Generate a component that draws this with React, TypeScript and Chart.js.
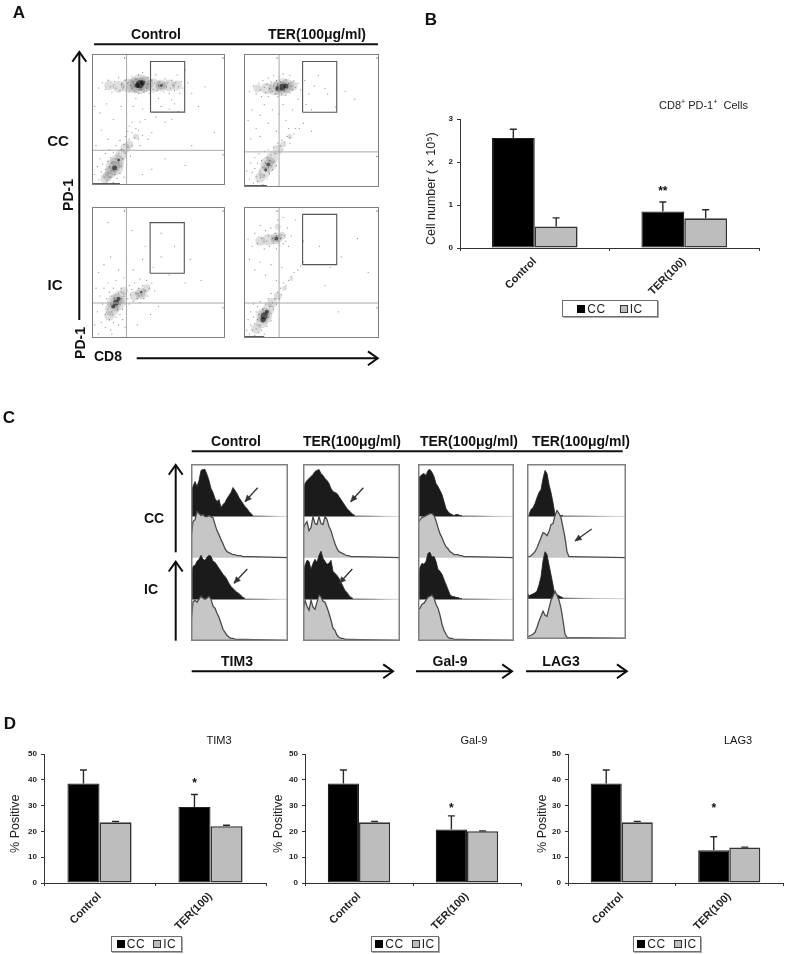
import React, { useEffect, useRef } from "react";
import { Chart, registerables } from "chart.js";
Chart.register(...registerables);

const FONT = '"Liberation Sans", Arial, sans-serif';

/* ---------- bar data ---------- */
const groups = ["Control", "TER(100)"];
const cellCC = [2.56, 0.85];
const cellIC = [0.5, 0.69];
const cellCCTop = [2.76, 1.07];
const cellICTop = [0.7, 0.89];
const cellStars = [null, "**"];
const cellStarAt = [0, 1.35];

const timCC = [38.6, 29.5];
const timIC = [23.5, 22];
const timCCTop = [43.8, 34.3];
const timICTop = [23.9, 22.4];
const galCC = [38.6, 20.7];
const galIC = [23.5, 20.1];
const galCCTop = [43.8, 26];
const galICTop = [23.9, 20.2];
const lagCC = [38.6, 12.7];
const lagIC = [23.5, 13.8];
const lagCCTop = [43.8, 17.9];
const lagICTop = [23.9, 13.9];

/* ---------- flow cytometry dots, percent of axis (x,y pairs) ---------- */
const p1Specks = [5,74,8,78,10,73,12,80,14,75,15,71,17,79,18,74,20,82,21,72,22,77,24,75,25,80,26,73,27,78,28,71,29,76,30,83,30,74,31,79,32,72,33,77,33,81,34,75,35,70,35,84,36,78,37,73,37,80,38,76,38,86,39,71,40,79,41,74,42,82,42,77,43,70,44,75,45,80,46,73,47,78,48,84,49,72,50,76,51,79,52,74,53,77,54,71,55,81,56,75,57,78,58,70,59,74,60,80,61,76,62,72,63,78,64,84,65,75,66,70,67,79,68,74,72,78,75,70,70,88,
2,60,6,55,11,62,16,50,22,60,26,55,30,48,31,60,35,42,38,58,40,50,44,62,48,52,52,60,55,48,58,58,62,62,60,50,65,56,45,40,42,35,38,38,36,30,28,45,12,35,7,42,3,30,60,65,50,66,33,66,80,60,85,75,92,40,75,30,70,15,55,20,45,12,38,8,
2,8,4,14,5,4,6,20,7,10,8,16,9,6,10,24,10,12,11,3,12,18,12,9,13,14,13,27,14,6,14,21,15,11,15,17,16,2,16,25,17,8,17,14,18,20,18,30,19,12,19,5,20,17,20,24,21,9,21,34,22,14,22,27,23,20,24,31,24,6,25,24,25,37,26,16,27,29,27,41,28,35,29,22,30,30,30,40,32,36,33,43,35,35,36,48];
const p1Soft = [36,77,10,36,77,7,32,76,8,40,77,8,27,76,7,20,75,6,13,76,5,46,76,7,52,76,6,52,76,4,58,76,6,64,76,5,17,14,9,17,14,6,19,18,7,22,23,6,25,28,5,14,10,6,12,7,5,28,31,4,33,37,3,10,5,5];
const p1Dense = [36,77,4,34,76,2.5,38,78,2.5,52,76,1.5,17,13,2.5,20,19,1.5];

const p2Specks = [4,72,7,76,9,70,11,78,12,73,13,68,14,80,15,75,16,71,17,77,18,82,18,68,19,74,20,79,21,72,22,76,22,84,23,70,24,74,24,80,25,77,25,68,26,72,26,83,27,75,27,79,28,70,28,74,29,78,29,85,30,72,30,76,31,69,31,81,32,74,33,78,34,71,34,84,35,76,36,73,37,80,38,75,40,78,42,73,45,80,48,70,52,76,60,74,
3,50,6,58,9,44,12,54,15,62,18,48,21,58,24,42,26,55,29,62,31,50,33,44,36,58,40,66,46,62,50,58,55,84,62,70,68,60,75,72,82,66,50,42,44,48,41,44,37,40,34,37,5,36,12,38,
2,12,4,6,5,18,6,11,7,3,8,22,8,14,9,8,10,18,10,4,11,25,12,12,12,7,13,20,14,15,14,2,15,9,15,27,16,18,16,12,17,22,17,6,18,15,18,28,19,10,19,20,20,24,20,16,21,13,22,30,22,19,23,25,24,16,25,33,26,27,27,31,28,35,29,28,30,34,32,38,34,33,38,44];
const p2Soft = [28,75,9,28,75,6,23,74,7,32,76,7,17,74,6,36,76,5,10,74,4,18,17,8,18,17,5,15,11,6,21,22,6,25,28,5,29,32,3,12,7,5,34,38,2.5];
const p2Dense = [28,75,3.5,25,74,2.5,31,76,2.5,18,17,2,16,13,1.5];

const p3Specks = [4,20,6,32,7,12,8,26,9,38,10,18,10,8,11,30,12,22,12,42,13,14,13,35,14,26,14,6,15,20,15,32,16,38,16,12,17,24,17,30,18,16,18,44,19,28,19,22,20,34,20,10,21,26,21,18,22,38,22,30,23,22,23,14,24,32,24,46,25,26,25,8,26,36,26,18,27,30,28,26,28,40,29,33,30,37,31,28,32,42,33,34,34,30,35,38,36,27,36,45,37,33,38,40,39,30,40,36,41,44,42,32,43,38,45,42,47,36,
2,10,3,38,5,50,9,56,14,62,20,52,26,60,31,52,38,60,46,54,52,62,58,48,62,70,70,42,74,60,82,44,12,88,30,82,40,70,52,80,5,3,15,3,26,4,34,10,44,18,50,24];
const p3Soft = [18,27,9,18,27,6,15,22,7,21,31,7,13,17,5,24,36,4,37,34,6,37,34,4,32,32,5,41,38,4];
const p3Dense = [18,27,3,16,24,2,20,30,2,37,35,1.2];

const p4Specks = [3,75,6,70,8,80,10,72,12,86,13,76,15,68,16,82,17,74,18,78,19,70,20,84,21,76,22,72,23,80,23,75,24,68,24,78,25,74,25,90,26,71,26,82,27,76,28,79,29,72,29,92,30,78,31,74,32,84,33,70,35,78,
4,60,8,52,12,58,16,48,20,56,24,44,28,54,38,90,44,74,56,70,64,54,72,62,84,76,92,50,60,40,70,20,
2,6,3,14,4,3,5,20,5,10,6,6,7,16,7,26,8,2,8,11,9,20,9,7,10,14,10,24,11,4,11,18,12,10,12,28,13,16,13,6,14,22,14,12,15,18,15,3,16,14,16,26,17,9,17,20,18,16,18,30,19,24,20,13,20,34,21,27,22,22,23,30,24,26,25,35,26,30,27,38,28,33,29,42,31,40,33,44,35,47,37,50,40,52,42,55,44,58];
const p4Soft = [24,76,6,24,76,4,18,75,6,28,78,4,12,74,5,25,85,3,15,17,8,15,17,6,13,12,6,18,22,6,21,27,5,25,32,4,9,7,5,30,38,2.5,35,45,2];
const p4Dense = [24,76,2,15,17,3.5,14,14,2.5,17,20,2];

const crossV = [26, 26, 25.9, 26];
const crossH = [26.5, 26.4, 26.7, 26.7];
const gateX = [[44, 69.7], [43.4, 68.7], [43.7, 69.4], [43.4, 68.7]];
const gateY = [[55.6, 94.3], [56.2, 94.4], [49.4, 88.1], [56, 94.4]];
const pileUp = [21, 17, 0, 15];
const quadrantMarks = [24.5, 97, 98.5, 97, 98.5, 23];

/* ---------- histograms: counts per channel step, one list per row ---------- */
const h1a = [28,30,35,30,36,46,47,47,42,36,28,24,18,15,17,9,12,14,18,21,24,29,26,23,19,16,13,10,8,5,3,1];
const h1b = [20,36,38,46,44,42,43,41,41,42,41,40,33,27,23,18,14,9,6,5,4,3,3,2,2,2,1,1,1,1,1];
const h1c = [24,33,34,38,40,44,40,39,42,44,43,38,37,34,31,28,25,23,20,16,13,11,9,7,6,4,2,1];
const h1d = [18,38,40,38,41,44,42,41,42,44,41,34,32,27,23,17,11,8,5,3,2,2,1,1,1,1,1];
const h2a = [25,33,36,38,40,42,45,46,47,43,41,38,36,33,28,25,24,23,20,17,14,11,8,6,4,2,1];
const h2b = [28,33,36,27,30,41,34,33,41,34,33,41,38,31,27,20,14,9,6,5,4,3,2,2,1,1,1,1,1];
const h2c = [28,34,39,38,30,36,40,37,44,48,41,38,35,36,39,28,26,24,21,17,13,9,7,4,2,1];
const h2d = [28,40,34,30,40,33,31,38,45,43,39,38,33,27,20,12,10,5,3,2,2,1,1,1];
const h3a = [38,40,42,43,41,46,47,44,40,33,30,26,22,15,8,5,3,2,1,2,2,1,1];
const h3b = [35,38,40,41,42,43,44,44,42,37,30,24,20,15,11,9,6,5,3,3,3,2,2,1,1,1,1];
const h3c = [22,32,36,35,38,46,47,42,43,38,30,28,25,20,15,10,5,3,3,2,2,1,1];
const h3d = [30,32,36,37,40,43,44,45,42,36,32,25,16,10,6,3,2,2,1,1,1];
const h4a = [0,2,7,9,13,19,24,27,38,46,43,32,24,14,2,1,1,1,1];
const h4b = [1,1,2,4,6,10,15,20,25,24,22,26,33,34,42,47,44,40,30,20,6,1,1];
const h4c = [7,3,4,5,6,8,14,22,38,47,44,34,24,14,2,4,3,2,1];
const h4d = [1,2,3,4,6,11,17,22,27,23,22,30,38,42,47,43,38,30,18,4,1];
const rowBases = [124, 83, 41.4, 0.7];

const legendLabels = ["CC", "IC"];
const legendColors = ["#000", "#bdbdbd"];

/* ---------- helpers ---------- */
const pts = (a: number[]) => {
  const o: any[] = [];
  for (let i = 0; i < a.length; i += 2) o.push({ x: a[i], y: a[i + 1] });
  return o;
};
const bubbles = (a: number[]) => {
  const o: any[] = [];
  for (let i = 0; i < a.length; i += 3) o.push({ x: a[i], y: a[i + 1], r: a[i + 2] });
  return o;
};

const framePlugin = {
  id: "frame",
  afterDraw(chart: any, _a: any, o: any) {
    if (!o.color) return;
    const { left, top, width, height } = chart.chartArea;
    const c = chart.ctx;
    c.save();
    c.strokeStyle = o.color;
    c.lineWidth = o.width || 1;
    const i = c.lineWidth / 2;
    c.strokeRect(left + i, top + i, width - 2 * i, height - 2 * i);
    c.restore();
  },
};

const errorPlugin = {
  id: "errors",
  afterDatasetsDraw(chart: any) {
    const c = chart.ctx;
    const y = chart.scales.y;
    c.save();
    chart.data.datasets.forEach((ds: any, di: number) => {
      if (!ds.errorTops) return;
      chart.getDatasetMeta(di).data.forEach((bar: any, i: number) => {
        const yt = y.getPixelForValue(ds.errorTops[i]);
        c.strokeStyle = "#2a2a2a";
        c.lineWidth = 1.4;
        c.beginPath();
        c.moveTo(bar.x, bar.y);
        c.lineTo(bar.x, yt);
        c.moveTo(bar.x - 3.5, yt);
        c.lineTo(bar.x + 3.5, yt);
        c.stroke();
        if (ds.stars && ds.stars[i]) {
          c.fillStyle = "#111";
          c.font = `bold 12px ${FONT}`;
          c.textAlign = "center";
          c.textBaseline = "middle";
          c.fillText(ds.stars[i], bar.x, y.getPixelForValue(ds.starAt[i]) + 2);
        }
      });
    });
    c.restore();
  },
};

function barConfig(cc: number[], ic: number[], ccTop: number[], icTop: number[], stars: any[], starAt: number[], max: number, step: number, yTitle: string, yWidth: number, xHeight: number, catPct: number) {
  return {
    type: "bar",
    plugins: [errorPlugin],
    data: {
      labels: groups,
      datasets: [
        { label: legendLabels[0], data: cc, errorTops: ccTop, stars, starAt, backgroundColor: "#000", borderColor: "#222", borderWidth: 1.2, borderSkipped: false },
        { label: legendLabels[1], data: ic, errorTops: icTop, backgroundColor: "#bdbdbd", borderColor: "#333", borderWidth: 1.6, borderSkipped: false },
      ],
    },
    options: {
      animation: false,
      responsive: false,
      layout: { padding: { top: 10, right: 3, left: 0, bottom: 0 } },
      plugins: { legend: { display: false }, tooltip: { enabled: false } },
      datasets: { bar: { categoryPercentage: catPct, barPercentage: 1 } },
      scales: {
        x: {
          afterFit: (s: any) => { s.height = xHeight; },
          border: { color: "#333", width: 1 },
          grid: { drawOnChartArea: false, tickLength: 3, color: "#333" },
          ticks: { minRotation: 45, maxRotation: 45, padding: 4, color: "#222", font: { family: FONT, size: 11, weight: "bold" } },
        },
        y: {
          min: 0,
          max,
          afterFit: (s: any) => { s.width = yWidth; },
          border: { color: "#333", width: 1 },
          grid: { drawOnChartArea: false, tickLength: 3, color: "#333" },
          ticks: { stepSize: step, padding: 4, color: "#222", font: { family: FONT, size: 8, weight: "bold" } },
          title: { display: true, text: yTitle, color: "#222", padding: 0, font: { family: FONT, size: 12.5 } },
        },
      },
    },
  };
}

function flowConfig(i: number, specks: number[], soft: number[], dense: number[]) {
  const x0 = gateX[i][0], x1 = gateX[i][1], y0 = gateY[i][0], y1 = gateY[i][1];
  const rule = { type: "scatter", showLine: true, borderColor: "#a8a8a8", borderWidth: 1, pointRadius: 0 };
  return {
    type: "scatter",
    plugins: [framePlugin],
    data: {
      datasets: [
        { type: "bubble", label: "density", data: bubbles(soft), backgroundColor: "rgba(0,0,0,0.13)", borderWidth: 0, order: 6 },
        { type: "bubble", label: "core", data: bubbles(dense), backgroundColor: "rgba(0,0,0,0.55)", borderWidth: 0, order: 5 },
        { label: "events", data: pts(specks), backgroundColor: "rgba(40,40,40,0.55)", pointRadius: 0.6, borderWidth: 0, order: 4 },
        { ...rule, label: "v", data: [{ x: crossV[i], y: 0 }, { x: crossV[i], y: 100 }], order: 3 },
        { ...rule, label: "h", data: [{ x: 0, y: crossH[i] }, { x: 100, y: crossH[i] }], order: 3 },
        { ...rule, label: "gate", borderColor: "#555", borderWidth: 1.1, data: [{ x: x0, y: y0 }, { x: x1, y: y0 }, { x: x1, y: y1 }, { x: x0, y: y1 }, { x: x0, y: y0 }], order: 2 },
        { ...rule, label: "pile", borderColor: "#111", borderWidth: 1.8, data: [{ x: 0, y: 0.6 }, { x: pileUp[i], y: 0.6 }], order: 1 },
        { label: "q", data: pts(quadrantMarks), backgroundColor: "#666", pointRadius: 0.7, borderWidth: 0, order: 1 },
      ],
    },
    options: {
      animation: false,
      responsive: false,
      layout: { padding: 0, autoPadding: false },
      plugins: { legend: { display: false }, tooltip: { enabled: false }, frame: { color: "#7d7d7d", width: 1 } },
      scales: {
        x: { type: "linear", min: 0, max: 100, display: false },
        y: { type: "linear", min: 0, max: 100, display: false },
      },
    },
  };
}

function histConfig(rows: number[][], width: number, height: number, bases: number[], step: number) {
  const ds = rows.map((row, r) => {
    const base = bases[r];
    const isBlack = r % 2 === 0;
    const data: any[] = row.map((v, i) => ({ x: i * step, y: base + v }));
    data.push({ x: width, y: base });
    return {
      type: "line",
      label: `row${r}`,
      data,
      fill: { value: base },
      backgroundColor: isBlack ? "#1b1b1b" : "#c6c6c6",
      borderColor: isBlack ? "#222" : "#4a4a4a",
      borderWidth: isBlack ? 0.8 : 1.3,
      pointRadius: 0,
      tension: 0,
      order: 4 - r,
      segment: isBlack
        ? { borderColor: (c: any) => (c.p0.parsed.y <= base + 0.01 || c.p1.parsed.y <= base + 0.01 ? "#cfcfcf" : undefined) }
        : undefined,
    };
  });
  return {
    type: "line",
    plugins: [framePlugin],
    data: { datasets: ds },
    options: {
      animation: false,
      responsive: false,
      layout: { padding: 0, autoPadding: false },
      plugins: { legend: { display: false }, tooltip: { enabled: false }, frame: { color: "#808080", width: 1.5 } },
      scales: {
        x: { type: "linear", min: 0, max: width, display: false },
        y: { type: "linear", min: 0, max: height, display: false },
      },
    },
  };
}

function Cv({ l, t, w, h, make }: any) {
  const ref = useRef<HTMLCanvasElement>(null);
  useEffect(() => {
    const chart = new Chart(ref.current as any, make());
    return () => chart.destroy();
  }, []);
  return <canvas ref={ref} width={w} height={h} style={{ position: "absolute", left: l, top: t, width: w, height: h, display: "block" }} />;
}

const labels: any[] = [
  ["A", 19, 12, 17, 1], ["B", 431, 19, 17, 1], ["C", 9, 417, 17, 1], ["D", 10, 723, 17, 1],
  ["Control", 156, 34, 14, 1], ["TER(100μg/ml)", 317, 34, 14, 1],
  ["CC", 58, 140, 15, 1], ["IC", 55, 284, 15, 1],
  ["PD-1", 68, 195, 14, 1, -90], ["PD-1", 80, 343, 14, 1, -90], ["CD8", 108, 356, 14, 1],
  ["Control", 236, 441, 14, 1], ["TER(100μg/ml)", 352, 441, 14, 1], ["TER(100μg/ml)", 469, 441, 14, 1], ["TER(100μg/ml)", 581, 441, 14, 1],
  ["CC", 154, 518, 14, 1], ["IC", 151, 589, 14, 1],
  ["TIM3", 237, 661, 14, 1], ["Gal-9", 450, 661, 14, 1], ["LAG3", 561, 661, 14, 1],
  ["TIM3", 219, 740, 11, 0], ["Gal-9", 474, 740, 11, 0], ["LAG3", 738, 740, 11, 0],
];

const bigArrows: number[][] = [
  [79.3, 320, 79.3, 52, 2], [136.7, 358.3, 377.7, 358.3, 2],
  [175.7, 552.3, 175.7, 465, 2], [175.7, 640.7, 175.7, 561.7, 2],
  [191.7, 671.3, 393, 671.3, 2], [416, 671.3, 512, 671.3, 2], [526, 671.3, 626.7, 671.3, 2],
];
const rules: number[][] = [[94, 44.3, 378, 44.3], [191.7, 451.3, 622.7, 451.3]];
const thinArrows: number[][] = [
  [257.7, 487.7, 245, 501.7], [363.3, 487.7, 350.7, 501.7],
  [247.3, 569, 234, 583.3], [352.3, 569, 339.3, 583.3], [591.7, 529, 575, 541],
];

function Overlay() {
  const head = (a: number[], len: number, sp: number) => {
    const ang = Math.atan2(a[3] - a[1], a[2] - a[0]);
    const p = (s: number) => `${a[2] - len * Math.cos(ang + s)},${a[3] - len * Math.sin(ang + s)}`;
    return { open: `${p(sp)} ${a[2]},${a[3]} ${p(-sp)}`, };
  };
  return (
    <svg width={786} height={954} style={{ position: "absolute", left: 0, top: 0, pointerEvents: "none" }}>
      {rules.map((a, i) => <line key={i} x1={a[0]} y1={a[1]} x2={a[2]} y2={a[3]} stroke="#111" strokeWidth={2} />)}
      {bigArrows.map((a, i) => (
        <g key={i} fill="none" stroke="#0a0a0a" strokeWidth={a[4]}>
          <line x1={a[0]} y1={a[1]} x2={a[2]} y2={a[3]} />
          <polyline points={head(a, 12, 0.62).open} />
        </g>
      ))}
      {thinArrows.map((a, i) => (
        <g key={i} stroke="#333" fill="#333" strokeWidth={1.3}>
          <line x1={a[0]} y1={a[1]} x2={a[2]} y2={a[3]} />
          <polygon points={head(a, 7, 0.42).open} strokeWidth={0.5} />
        </g>
      ))}
    </svg>
  );
}

function Legend({ l, t, w, h, gap }: any) {
  return (
    <div style={{ position: "absolute", left: l, top: t, width: w, height: h, boxSizing: "border-box", border: "1px solid #6f6f6f", boxShadow: "1px 1px 0 #aaa", display: "flex", alignItems: "center", justifyContent: "center", gap, fontFamily: FONT, fontSize: 12, letterSpacing: 0.6, color: "#222", background: "#fff" }}>
      {legendLabels.map((s, i) => (
        <span key={s} style={{ display: "flex", alignItems: "center", gap: 2 }}>
          <span style={{ width: 6, height: 6, background: legendColors[i], border: i ? "1px solid #333" : "1px solid #000", display: "inline-block" }} />
          {s}
        </span>
      ))}
    </div>
  );
}

export default function App() {
  const H = 176.4;
  return (
    <div style={{ position: "absolute", left: 0, top: 0, width: 786, height: 954, overflow: "hidden", background: "#fff" }}>
      <Cv l={92} t={54} w={133} h={131} make={() => flowConfig(0, p1Specks, p1Soft, p1Dense)} />
      <Cv l={244} t={54} w={135} h={133} make={() => flowConfig(1, p2Specks, p2Soft, p2Dense)} />
      <Cv l={92} t={207} w={133} h={131} make={() => flowConfig(2, p3Specks, p3Soft, p3Dense)} />
      <Cv l={244} t={207} w={135} h={131} make={() => flowConfig(3, p4Specks, p4Soft, p4Dense)} />

      <Cv l={424} t={109} w={338} h={190} make={() => barConfig(cellCC, cellIC, cellCCTop, cellICTop, cellStars, cellStarAt, 3, 1, "Cell number ( × 10⁵)   ", 36, 51, 0.573)} />

      <Cv l={191} t={464} w={97} h={177} make={() => histConfig([h1a, h1b, h1c, h1d], 97, H, rowBases, 2)} />
      <Cv l={303} t={464} w={97} h={177} make={() => histConfig([h2a, h2b, h2c, h2d], 97, H, rowBases, 2)} />
      <Cv l={418} t={464} w={96} h={177} make={() => histConfig([h3a, h3b, h3c, h3d], 96, H, rowBases, 2)} />
      <Cv l={527} t={464} w={99} h={175} make={() => histConfig([h4a, h4b, h4c, h4d], 99, H - 2, [122, 81, 40, 0.7], 2)} />

      <Cv l={8} t={744} w={261} h={187} make={() => barConfig(timCC, timIC, timCCTop, timICTop, [null, "*"], [0, 39.4], 50, 10, "% Positive   ", 36, 48, 0.578)} />
      <Cv l={271} t={744} w={253} h={187} make={() => barConfig(galCC, galIC, galCCTop, galICTop, [null, "*"], [0, 29.5], 50, 10, "% Positive   ", 34, 48, 0.578)} />
      <Cv l={535} t={744} w={251} h={187} make={() => barConfig(lagCC, lagIC, lagCCTop, lagICTop, [null, "*"], [0, 29.5], 50, 10, "% Positive   ", 33, 48, 0.578)} />

      <Overlay />
      {labels.map((a, i) => (
        <div key={i} style={{ position: "absolute", left: a[1], top: a[2], transform: `translate(-50%,-50%)${a[5] ? ` rotate(${a[5]}deg)` : ""}`, fontFamily: FONT, fontSize: a[3], fontWeight: a[4] ? 700 : 400, color: "#111", whiteSpace: "nowrap", lineHeight: 1 }}>{a[0]}</div>
      ))}
      <div style={{ position: "absolute", left: 659, top: 98, fontFamily: FONT, fontSize: 11, color: "#222", whiteSpace: "nowrap", lineHeight: "14px" }}>
        CD8<sup style={{ fontSize: 7, lineHeight: 0 }}>+</sup> PD-1<sup style={{ fontSize: 7, lineHeight: 0 }}>+</sup>&nbsp; Cells
      </div>
      <Legend l={562} t={300} w={96} h={17} gap={14} />
      <Legend l={111} t={936} w={71} h={16} gap={8} />
      <Legend l={371} t={936} w={68} h={16} gap={8} />
      <Legend l={633} t={936} w={68} h={16} gap={8} />
    </div>
  );
}
